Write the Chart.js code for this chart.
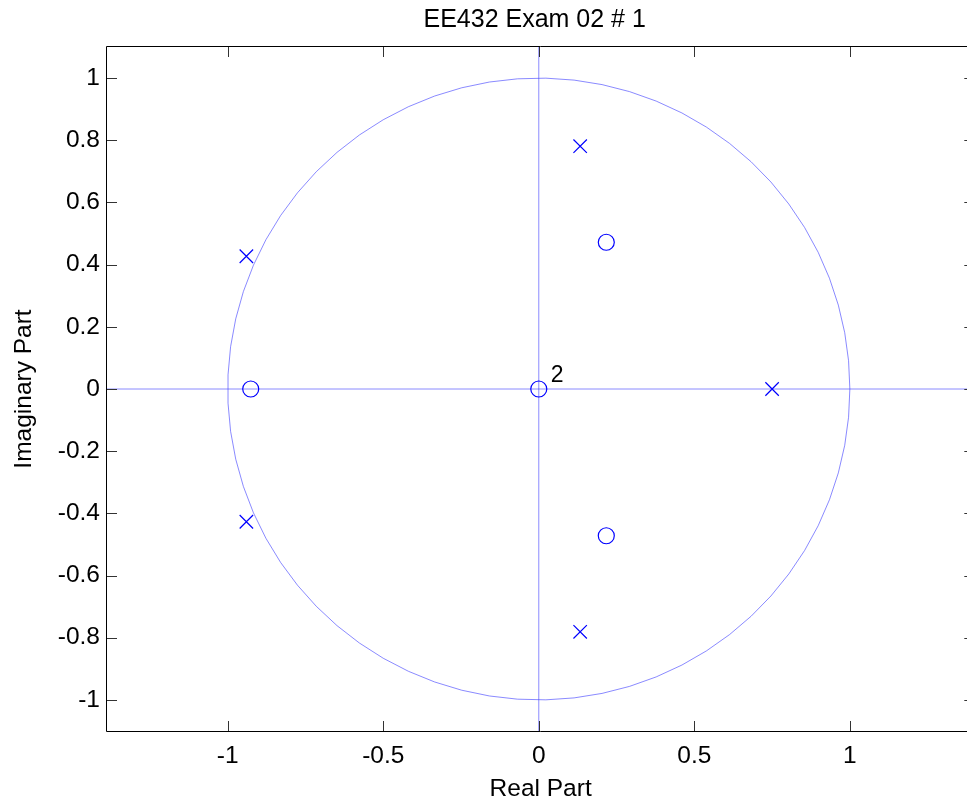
<!DOCTYPE html>
<html><head><meta charset="utf-8">
<script src="https://cdn.jsdelivr.net/npm/chart.js@4.4.1/dist/chart.umd.min.js"></script>
<style>
html,body{margin:0;padding:0;overflow:hidden;background:#fff;width:967px;height:805px}
#wrap{position:absolute;left:0;top:0;width:985px;height:805px}
</style>
</head><body><div id="wrap"><canvas id="c" width="985" height="805"></canvas></div>
<script>
const chartTitle = 'EE432 Exam 02 # 1';
const xAxisLabel = 'Real Part';
const yAxisLabel = 'Imaginary Part';

// zeros (o)
const zeroReal = [-0.926, 0, 0.217, 0.217];
const zeroImag = [0, 0, 0.472, -0.472];
const zeroMultiplicity = [1, 2, 1, 1];

// poles (x)
const poleReal = [0.133, -0.940, -0.940, 0.133, 0.750];
const poleImag = [0.781, 0.427, -0.427, -0.781, 0];

// axes
const xTickValues = [-1, -0.5, 0, 0.5, 1];
const yTickValues = [-1, -0.8, -0.6, -0.4, -0.2, 0, 0.2, 0.4, 0.6, 0.8, 1];
const xLimits = [-1.388, 1.40];
const yLimits = [-1.1, 1.1];

const unitCircleRadius = 1;
const unitCircleVertices = 70;

const FONT = "'Liberation Sans', Arial, Helvetica, sans-serif";
const LIGHT = 'rgba(60,60,255,0.6)';
const FS = 24.5;

const zeroPoints = zeroReal.map((r, i) => ({x: r, y: zeroImag[i]}));
const polePoints = poleReal.map((r, i) => ({x: r, y: poleImag[i]}));

const fmt = v => String(Math.round(v * 100) / 100);

const zplanePlugin = {
  id: 'zplane',
  beforeDatasetsDraw(chart) {
    const {ctx, chartArea: a, scales: {x, y}} = chart;
    ctx.save();
    ctx.beginPath();
    ctx.rect(a.left, a.top, a.right - a.left, a.bottom - a.top);
    ctx.clip();
    ctx.strokeStyle = LIGHT;
    ctx.lineWidth = 1;
    ctx.beginPath();
    const y0 = y.getPixelForValue(0), x0 = x.getPixelForValue(0);
    ctx.moveTo(a.left, y0); ctx.lineTo(a.right, y0);
    ctx.moveTo(x0, a.top); ctx.lineTo(x0, a.bottom);
    ctx.stroke();
    ctx.beginPath();
    for (let k = 0; k < unitCircleVertices; k++) {
      const t = 2 * Math.PI * k / (unitCircleVertices - 1);
      const px = x.getPixelForValue(unitCircleRadius * Math.cos(t));
      const py = y.getPixelForValue(unitCircleRadius * Math.sin(t));
      if (k === 0) ctx.moveTo(px, py); else ctx.lineTo(px, py);
    }
    ctx.stroke();
    ctx.restore();
  },
  afterDraw(chart) {
    const {ctx, chartArea: a, scales: {x, y}} = chart;
    ctx.save();
    ctx.strokeStyle = '#000';
    ctx.lineWidth = 1;
    ctx.beginPath();
    ctx.moveTo(a.left - 0.5, a.bottom + 0.5);
    ctx.lineTo(a.left - 0.5, a.top - 0.5);
    ctx.lineTo(a.right + 0.5, a.top - 0.5);
    ctx.lineTo(a.right + 0.5, a.bottom + 0.5);
    ctx.closePath();
    ctx.stroke();
    const TL = 10;
    ctx.strokeStyle = '#333';
    ctx.beginPath();
    xTickValues.forEach(v => {
      const px = Math.round(x.getPixelForValue(v)) + 0.5;
      ctx.moveTo(px, a.bottom); ctx.lineTo(px, a.bottom - TL);
      ctx.moveTo(px, a.top); ctx.lineTo(px, a.top + TL);
    });
    yTickValues.forEach(v => {
      const py = Math.round(y.getPixelForValue(v)) + 0.5;
      ctx.moveTo(a.left, py); ctx.lineTo(a.left + TL, py);
      ctx.moveTo(a.right, py); ctx.lineTo(a.right - TL, py);
    });
    ctx.stroke();
    // title, centred over the axes box
    ctx.fillStyle = '#000';
    ctx.font = '25px ' + FONT;
    ctx.textAlign = 'center';
    ctx.textBaseline = 'middle';
    ctx.fillText(chartTitle, (a.left + a.right) / 2 - 6, a.top / 2 - 3);
    // multiplicity labels
    ctx.font = '23px ' + FONT;
    ctx.textAlign = 'left';
    zeroMultiplicity.forEach((m, i) => {
      if (m > 1) {
        const px = x.getPixelForValue(zeroReal[i]);
        const py = y.getPixelForValue(zeroImag[i]);
        ctx.fillText(String(m), px + 12, py - 13);
      }
    });
    ctx.restore();
  }
};

new Chart(document.getElementById('c'), {
  type: 'scatter',
  data: {
    datasets: [
      {
        label: 'Zeros',
        data: zeroPoints,
        pointStyle: 'circle',
        pointRadius: 8,
        pointHoverRadius: 8,
        borderColor: '#0000ff',
        backgroundColor: 'rgba(0,0,0,0)',
        pointBorderWidth: 1.2
      },
      {
        label: 'Poles',
        data: polePoints,
        pointStyle: 'crossRot',
        pointRadius: 9.5,
        pointHoverRadius: 9.5,
        borderColor: '#0000ff',
        backgroundColor: '#0000ff',
        pointBorderWidth: 1.2
      }
    ]
  },
  options: {
    responsive: false,
    animation: false,
    devicePixelRatio: 1,
    layout: {padding: {left: 0, right: 10, top: 47, bottom: 0}},
    plugins: {
      legend: {display: false},
      tooltip: {enabled: false},
      title: {display: false}
    },
    scales: {
      x: {
        type: 'linear',
        min: xLimits[0], max: xLimits[1],
        grid: {display: false, drawTicks: false},
        border: {display: false},
        afterBuildTicks: s => { s.ticks = xTickValues.map(v => ({value: v})); },
        afterFit: s => { s.height = 74; },
        ticks: {
          color: '#000',
          font: {family: FONT, size: FS},
          padding: 11,
          maxRotation: 0,
          autoSkip: false,
          callback: v => fmt(v)
        },
        title: {
          display: true, text: xAxisLabel, color: '#000',
          font: {family: FONT, size: FS},
          padding: {top: 0, bottom: 1.5}
        }
      },
      y: {
        type: 'linear',
        min: yLimits[0], max: yLimits[1],
        grid: {display: false, drawTicks: false},
        border: {display: false},
        afterBuildTicks: s => { s.ticks = yTickValues.map(v => ({value: v})); },
        afterFit: s => { s.width = 107; },
        ticks: {
          color: '#000',
          font: {family: FONT, size: FS},
          padding: 7,
          autoSkip: false,
          callback: v => fmt(v)
        },
        title: {
          display: true, text: yAxisLabel, color: '#000',
          font: {family: FONT, size: FS},
          padding: {top: 9.5, bottom: 0}
        }
      }
    }
  },
  plugins: [zplanePlugin]
});
</script>
</body></html>
